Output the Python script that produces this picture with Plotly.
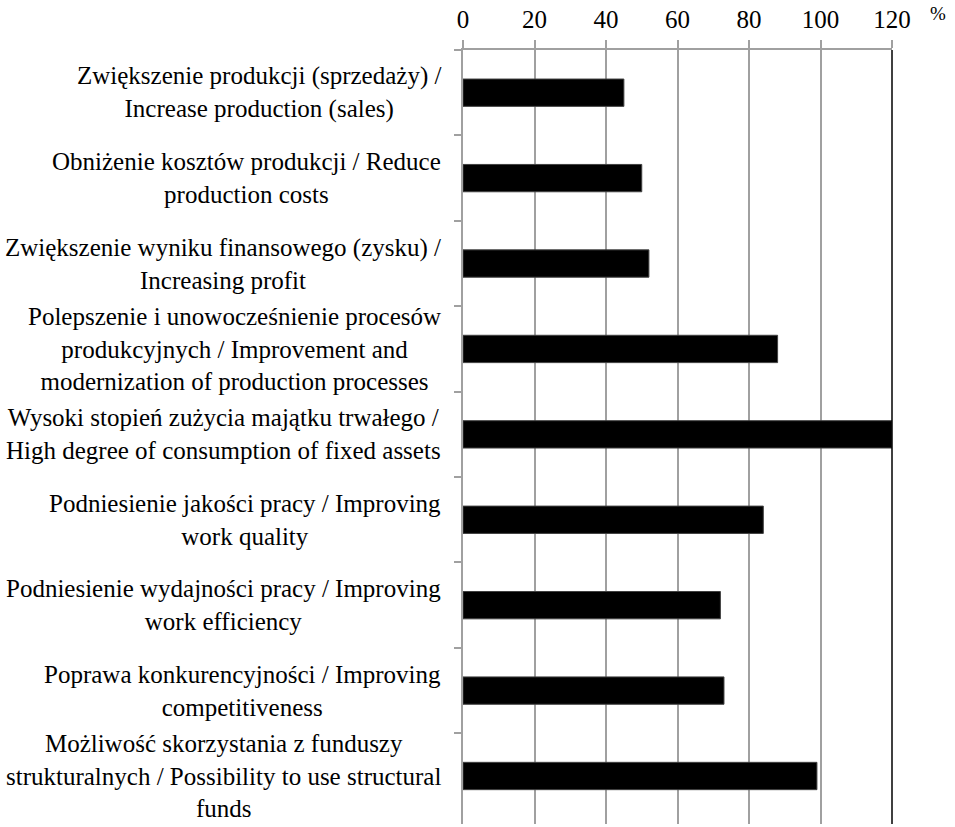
import plotly.graph_objects as go

categories = [
    "Zwiększenie produkcji (sprzedaży) /<br>Increase production (sales)",
    "Obniżenie kosztów produkcji / Reduce<br>production costs",
    "Zwiększenie wyniku finansowego (zysku) /<br>Increasing profit",
    "Polepszenie i unowocześnienie procesów<br>produkcyjnych / Improvement and<br>modernization of production processes",
    "Wysoki stopień zużycia majątku trwałego /<br>High degree of consumption of fixed assets",
    "Podniesienie jakości pracy / Improving<br>work quality",
    "Podniesienie wydajności pracy / Improving<br>work efficiency",
    "Poprawa konkurencyjności / Improving<br>competitiveness",
    "Możliwość skorzystania z funduszy<br>strukturalnych / Possibility to use structural<br>funds",
]
values = [45, 50, 52, 88, 120, 84, 72, 73, 99]
x_ticks = [0, 20, 40, 60, 80, 100, 120]
unit_label = "%"

FONT = "'Liberation Serif', 'Times New Roman', 'DejaVu Serif', serif"
FS = 25

fig = go.Figure()
fig.add_trace(go.Bar(
    x=values,
    y=categories,
    orientation="h",
    marker=dict(color="black", line=dict(color="#404040", width=1)),
    width=0.32,
    hoverinfo="skip",
))

for c in categories:
    fig.add_annotation(
        x=0, xref="paper", xshift=-20, xanchor="right",
        y=c, yref="y", yanchor="middle",
        text=c, showarrow=False, align="center",
        font=dict(family=FONT, size=FS, color="black"),
    )

fig.add_annotation(
    x=1, xref="paper", xshift=36, xanchor="left",
    y=1, yref="paper", yshift=24, yanchor="bottom",
    text=unit_label, showarrow=False,
    font=dict(family=FONT, size=19, color="black"),
)

# darker right boundary line at 120
fig.add_shape(type="line", xref="paper", yref="paper", x0=1, x1=1, y0=0, y1=1,
              line=dict(color="black", width=1.5))

fig.update_layout(
    width=955, height=827,
    margin=dict(l=463, r=63, t=50, b=3),
    paper_bgcolor="white", plot_bgcolor="white",
    showlegend=False,
    font=dict(family=FONT, size=FS, color="black"),
    xaxis=dict(
        side="top", range=[0, 120], tickvals=x_ticks,
        ticks="outside", ticklen=8, tickcolor="#a0a0a0", tickwidth=1.5,
        showline=True, linecolor="#a0a0a0", linewidth=1.5,
        showgrid=True, gridcolor="#a0a0a0", gridwidth=1.5,
        zeroline=False,
        tickfont=dict(family=FONT, size=FS, color="black"),
        ticklabelstandoff=2,
    ),
    yaxis=dict(
        type="category", autorange="reversed",
        tickson="boundaries", ticks="outside", ticklen=7,
        tickcolor="#a0a0a0", tickwidth=1.5,
        showticklabels=False, showgrid=False,
        showline=True, linecolor="#a0a0a0", linewidth=1.5,
        zeroline=False,
    ),
)

fig.write_html(
    "out.html",
    config={"displayModeBar": False},
    post_script="document.body.style.margin='0';document.body.style.overflow='hidden';",
)
